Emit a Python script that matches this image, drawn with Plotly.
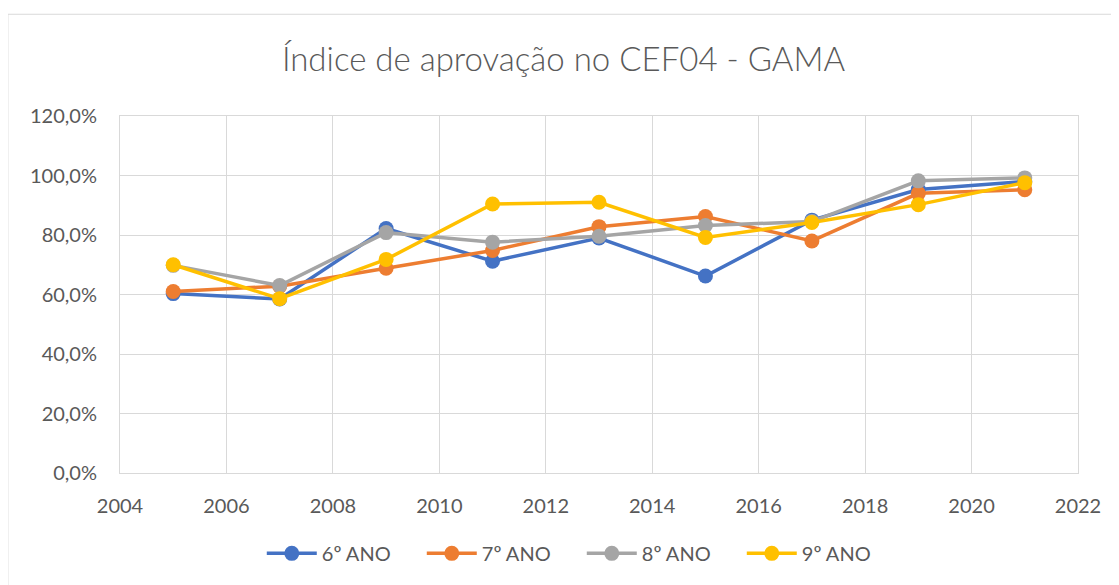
import plotly.graph_objects as go

years = [2005, 2007, 2009, 2011, 2013, 2015, 2017, 2019, 2021]
ano6 = [0.603, 0.585, 0.822, 0.712, 0.790, 0.662, 0.850, 0.953, 0.980]
ano7 = [0.610, 0.628, 0.688, 0.748, 0.828, 0.862, 0.780, 0.940, 0.952]
ano8 = [0.698, 0.630, 0.808, 0.776, 0.796, 0.832, 0.845, 0.982, 0.992]
ano9 = [0.700, 0.586, 0.718, 0.904, 0.910, 0.792, 0.842, 0.902, 0.976]
series_names = ["6º ANO", "7º ANO", "8º ANO", "9º ANO"]
colors = ["#4472C4", "#ED7D31", "#A5A5A5", "#FFC000"]
title_text = "Índice de aprovação no CEF04 - GAMA"

fig = go.Figure()
for name, vals, col in zip(series_names, [ano6, ano7, ano8, ano9], colors):
    fig.add_trace(go.Scatter(
        x=years, y=vals, name=name, mode="lines+markers",
        line=dict(color=col, width=3.5),
        marker=dict(color=col, size=15),
    ))

font_family = "Lato, 'Open Sans', sans-serif"
# page body has an 8px margin, so the figure is sized/offset to compensate
fig.update_layout(
    width=1111, height=577,
    margin=dict(l=112, r=41, t=108, b=107),
    paper_bgcolor="white", plot_bgcolor="white",
    separators=",.",
    title=dict(text=title_text, x=0.5, xanchor="center", y=0.91, yanchor="middle",
               font=dict(family=font_family, size=33, color="#595959", weight=300)),
    font=dict(family=font_family, size=20, color="#595959"),
    xaxis=dict(range=[2004, 2022], dtick=2, tick0=2004, showgrid=True, gridcolor="#D9D9D9",
               gridwidth=1, showline=True, linecolor="#D9D9D9", mirror=True, zeroline=False,
               ticks="", ticklabelstandoff=15, tickfont=dict(size=20, color="#595959")),
    yaxis=dict(range=[0, 1.2], dtick=0.2, tickformat=".1%", showgrid=True, gridcolor="#D9D9D9",
               gridwidth=1, showline=True, linecolor="#D9D9D9", mirror=True, zeroline=False,
               ticks="", ticklabelstandoff=18, tickfont=dict(size=20, color="#595959")),
    legend=dict(orientation="h", x=0.148, xanchor="left", y=-0.225, yanchor="middle",
                font=dict(size=20, color="#595959"), itemwidth=50,
                entrywidth=95, entrywidthmode="pixels"),
    showlegend=True,
)
fig.add_shape(type="rect", xref="paper", yref="paper", x0=-0.117, x1=1.2, y0=-0.5, y1=1.285,
              line=dict(color="#D9D9D9", width=1), fillcolor="rgba(0,0,0,0)", layer="below")

fig.write_html("out.html")
